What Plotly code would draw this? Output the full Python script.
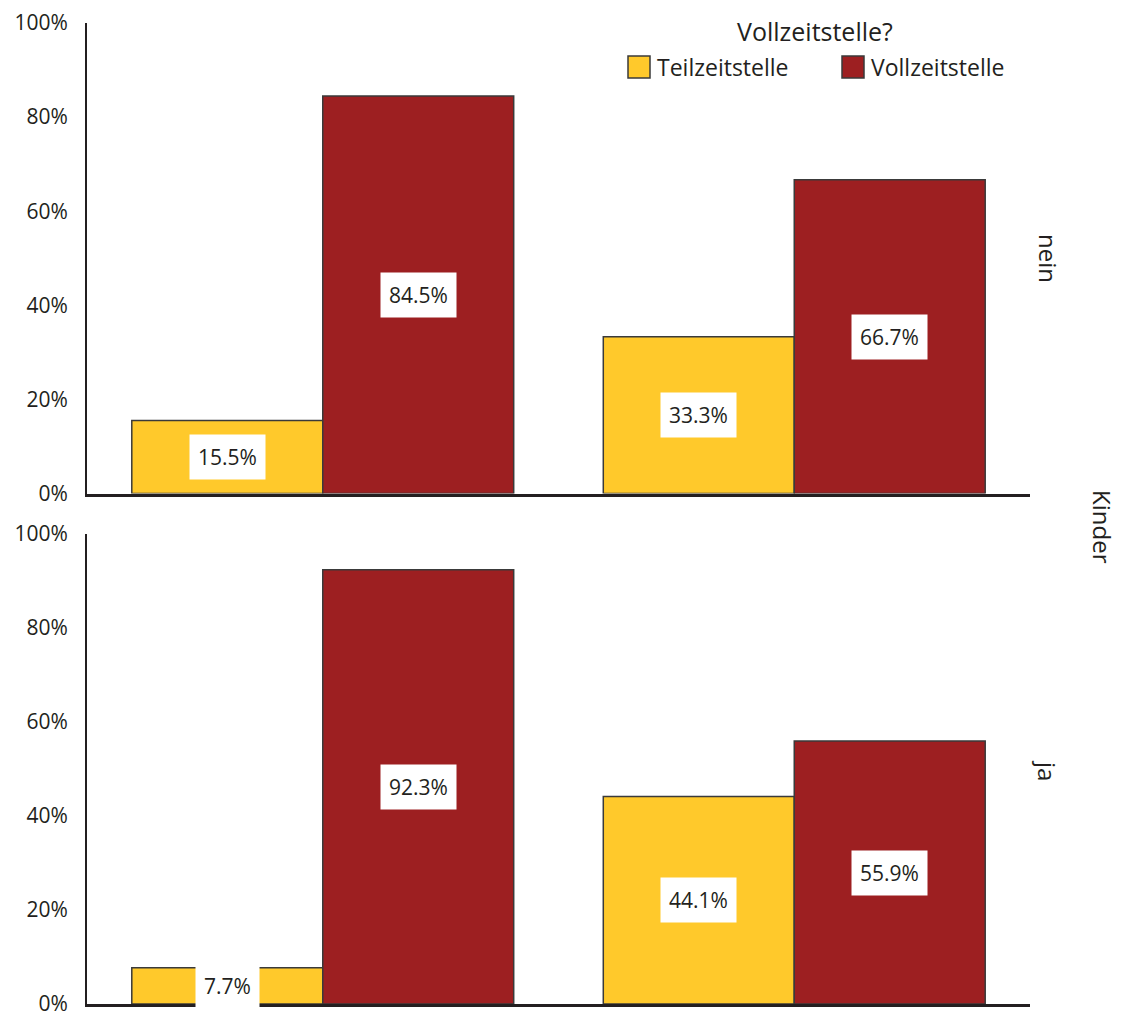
import plotly.graph_objects as go

categories = ["männlich", "weiblich"]
series_names = ["Teilzeitstelle", "Vollzeitstelle"]
colors = ["#FFC92B", "#9D1F21"]
panels = ["nein", "ja"]
values = {
    "nein": {"Teilzeitstelle": [15.5, 33.3], "Vollzeitstelle": [84.5, 66.7]},
    "ja": {"Teilzeitstelle": [7.7, 44.1], "Vollzeitstelle": [92.3, 55.9]},
}
y_ticks = [0, 20, 40, 60, 80, 100]
y_ticktext = ["0%", "20%", "40%", "60%", "80%", "100%"]

FONT = "Open Sans"
TXT = "#231F20"
EDGE = "#3a3a3a"

# page has an 8px body margin; figure coords = reference coords - OFF
OFF = 8
FW, FH = 1126 - OFF, 1019 - OFF
PLOT_TOP, PLOT_BOTTOM = 23, 1004  # page pixels
L, R, T = 87 - OFF, 96, PLOT_TOP - OFF
B = FH - (PLOT_BOTTOM - OFF)
W = FW - L - R
H = FH - T - B


def px(xp):
    return (xp - OFF - L) / W


def py(yp):
    return (FH - B - (yp - OFF)) / H


fig = go.Figure()
axes = {"nein": ("x", "y"), "ja": ("x2", "y2")}
bargap = 0.19
bw = (1 - bargap) / 2
for p in panels:
    xa, ya = axes[p]
    for s, c in zip(series_names, colors):
        fig.add_trace(go.Bar(
            x=categories, y=values[p][s], name=s, marker_color=c,
            marker_line=dict(color=EDGE, width=1.5),
            xaxis=xa, yaxis=ya, showlegend=False,
            hoverinfo="skip"))
    for si, s in enumerate(series_names):
        for ci, v in enumerate(values[p][s]):
            fig.add_annotation(
                x=ci + (si - 0.5) * bw, y=v / 2, xref=xa, yref=ya,
                text=f"{v:.1f}%", showarrow=False,
                font=dict(family=FONT, size=21, color=TXT),
                bgcolor="white", borderpad=8)

gap = 40
panel_h = (H - gap) / 2
top_dom = [(H - panel_h) / H, 1]
bot_dom = [0, panel_h / H]

xcommon = dict(type="category", range=[-0.5, 1.5], showline=True, linewidth=3,
               linecolor=TXT, showticklabels=False, ticks="", showgrid=False,
               zeroline=False, fixedrange=True)
ycommon = dict(range=[0, 100], tickvals=y_ticks, ticktext=y_ticktext, showline=True,
               linewidth=2, linecolor=TXT, ticks="", showgrid=False, zeroline=False,
               tickfont=dict(family=FONT, size=21, color=TXT), ticklabelstandoff=13,
               ticklabeloverflow="allow")

fig.update_layout(
    width=FW, height=FH,
    margin=dict(l=L, r=R, t=T, b=B, autoexpand=False),
    paper_bgcolor="white", plot_bgcolor="white",
    barmode="group", bargap=bargap, bargroupgap=0,
    font=dict(family=FONT, color=TXT),
    showlegend=False,
    xaxis=dict(**xcommon, domain=[0, 1], anchor="y"),
    yaxis=dict(**ycommon, domain=top_dom, anchor="x"),
    xaxis2=dict(**xcommon, domain=[0, 1], anchor="y2", matches="x"),
    yaxis2=dict(**ycommon, domain=bot_dom, anchor="x2"),
)

# legend (drawn as layout decoration)
fig.add_annotation(text="Vollzeitstelle?", x=px(815), y=py(31), xref="paper", yref="paper",
                   showarrow=False, xanchor="center", yanchor="middle",
                   font=dict(family=FONT, size=25, color=TXT))
for name, c, x0 in zip(series_names, colors, [628, 842]):
    fig.add_shape(type="rect", xref="paper", yref="paper",
                  x0=px(x0), x1=px(x0 + 22), y0=py(78), y1=py(56),
                  fillcolor=c, line=dict(color=EDGE, width=1.5))
    fig.add_annotation(text=name, x=px(x0 + 27), y=py(67), xref="paper", yref="paper",
                       showarrow=False, xanchor="left", yanchor="middle",
                       font=dict(family=FONT, size=23, color=TXT))

strip = [("nein", 1048, 258), ("ja", 1048, 770), ("Kinder", 1103, 527)]
for t, x, y in strip:
    fig.add_annotation(text=t, x=px(x), y=py(y), xref="paper", yref="paper",
                       showarrow=False, textangle=90,
                       font=dict(family=FONT, size=24, color=TXT),
                       xanchor="center", yanchor="middle")

fig.write_html("out.html")
